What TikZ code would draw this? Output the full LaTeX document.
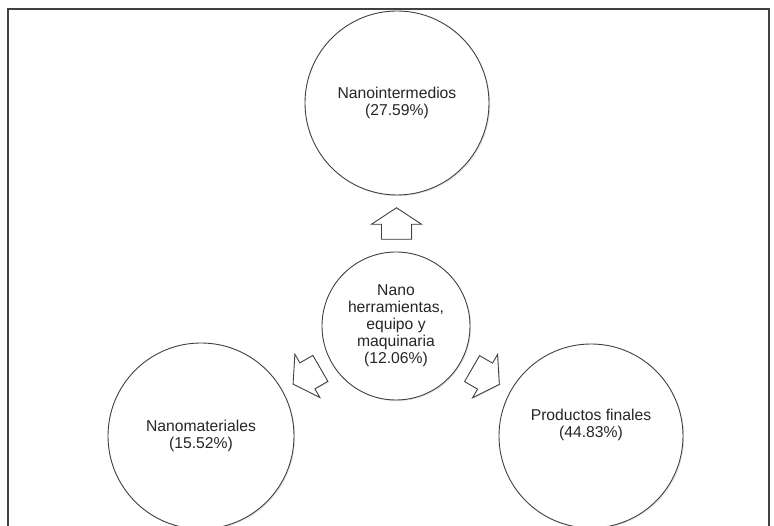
\documentclass[tikz,border=0pt]{standalone}
\usepackage{fontspec}
\setmainfont{Liberation Sans}
\usetikzlibrary{calc,shadows}

\tikzset{
  bubble/.style={circle, draw=black!75, line width=0.9pt, fill=white, inner sep=0pt,
    align=center, text=black!85, font=\fontsize{15.7}{17}\selectfont,
    drop shadow={shadow xshift=1.2pt, shadow yshift=-1.2pt, opacity=0.2}},
  label text/.style={align=center, text=black!85, font=\fontsize{15.7}{17}\selectfont},
  blockarrow/.pic={
    \draw[draw=black!75, line width=0.9pt, fill=white, line join=miter,
      drop shadow={shadow xshift=1pt, shadow yshift=-1pt, opacity=0.2}]
      (15.75,0) -- (-0.75,25) -- (-0.75,15) -- (-15.75,15)
      -- (-15.75,-15) -- (-0.75,-15) -- (-0.75,-25) -- cycle;
  }
}

\begin{document}
\begin{tikzpicture}[x=1pt,y=1pt]
  \useasboundingbox (0,0) rectangle (774,526);
  % frame
  \draw[draw=black!75, line width=1.3pt] (8,-5) -- (8,517) -- (769,517) -- (769,-5);

  % circles
  \node[bubble, minimum size=148pt] (hub) at (396,200)
    {Nano\\herramientas,\\equipo y\\maquinaria\\(12.06\%)};
  \node[bubble, minimum size=184pt] (inter) at (397,423) {Nanointermedios\\(27.59\%)};
  \node[bubble, minimum size=186pt] (mater) at (201,90) {Nanomateriales\\(15.52\%)};
  \node[bubble, minimum size=184pt] (final) at (591,90) {};
  \node[label text] (finaltext) at ([yshift=11pt]final.center) {Productos finales\\(44.83\%)};

  % arrows
  \pic[rotate=90] at ($(hub.north)!0.5!(inter.south)$) {blockarrow};
  \pic[rotate=210] at ($(hub.210)!0.5!(mater.30)$) {blockarrow};
  \pic[rotate=-30] at ($(hub.-30)!0.5!(final.150)$) {blockarrow};
\end{tikzpicture}
\end{document}
